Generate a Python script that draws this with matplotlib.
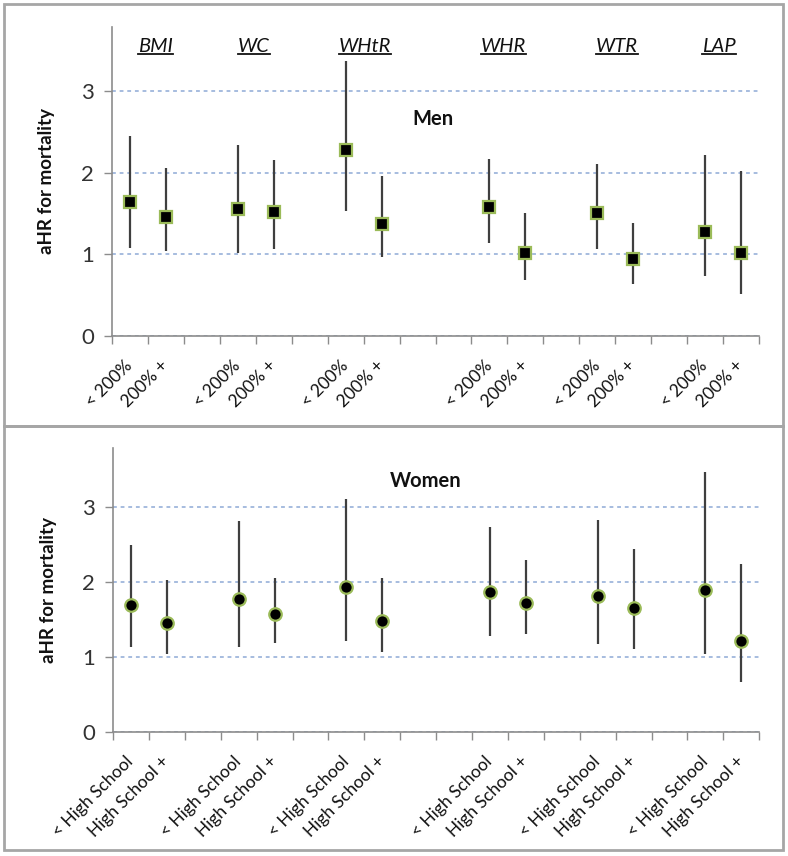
import numpy as np
import matplotlib
matplotlib.use("Agg")
import matplotlib.pyplot as plt
from matplotlib.patches import Rectangle
from matplotlib.lines import Line2D

plt.rcParams['font.family'] = ['Lato', 'DejaVu Sans']

nan = np.nan
# ---- data ----
men_labels = ["< 200%", "200% +", "", "< 200%", "200% +", "", "< 200%", "200% +", "", "",
              "< 200%", "200% +", "", "< 200%", "200% +", "", "< 200%", "200% +"]
women_labels = ["< High School", "High School +", "", "< High School", "High School +", "",
                "< High School", "High School +", "", "", "< High School", "High School +", "",
                "< High School", "High School +", "", "< High School", "High School +"]

men_hr = [1.64, 1.45, nan, 1.55, 1.52, nan, 2.27, 1.37, nan, nan, 1.58, 1.01, nan, 1.50, 0.94, nan, 1.27, 1.02]
men_lo = [1.08, 1.04, nan, 1.02, 1.06, nan, 1.53, 0.97, nan, nan, 1.14, 0.68, nan, 1.06, 0.64, nan, 0.73, 0.51]
men_hi = [2.45, 2.05, nan, 2.34, 2.15, nan, 3.36, 1.96, nan, nan, 2.16, 1.51, nan, 2.11, 1.38, nan, 2.21, 2.02]

women_hr = [1.70, 1.45, nan, 1.78, 1.57, nan, 1.94, 1.48, nan, nan, 1.87, 1.72, nan, 1.81, 1.65, nan, 1.90, 1.22]
women_lo = [1.14, 1.04, nan, 1.13, 1.19, nan, 1.21, 1.07, nan, nan, 1.28, 1.31, nan, 1.17, 1.11, nan, 1.04, 0.67]
women_hi = [2.49, 2.03, nan, 2.81, 2.05, nan, 3.11, 2.05, nan, nan, 2.73, 2.29, nan, 2.82, 2.44, nan, 3.47, 2.24]

group_names = ["BMI", "WC", "WHtR", "WHR", "WTR", "LAP"]
yticks = [0, 1, 2, 3]

# ---- layout / style ----
W, H = 788, 856
fig = plt.figure(figsize=(W / 100, H / 100), dpi=100)
fig.patch.set_facecolor('white')

AXIS_C = '#8c8c8c'
GRID_C = '#8eaad6'
ERR_C = '#3f3f3f'
EDGE_C = '#9bbb59'
TXT_C = '#111111'
group_x = [0.71, 3.44, 6.53, 10.39, 13.54, 16.39]


def px_rect(x0, y0, x1, y1):
    return [x0 / W, 1 - y1 / H, (x1 - x0) / W, (y1 - y0) / H]


def style_axes(ax, labels):
    n = len(labels)
    x = np.arange(n)
    ax.set_xlim(-0.5, n - 0.5)
    ax.set_ylim(0, 3.78)
    for s in ['top', 'right']:
        ax.spines[s].set_visible(False)
    for s in ['left', 'bottom']:
        ax.spines[s].set_color(AXIS_C)
        ax.spines[s].set_linewidth(1.2)
        ax.spines[s].set_zorder(3)
    ax.set_yticks(yticks)
    ax.set_yticklabels([str(v) for v in yticks], fontsize=16, color='#333333')
    ax.tick_params(axis='y', length=6, width=1, color=AXIS_C, pad=7)
    ax.set_xticks(x)
    ax.set_xticklabels(labels, rotation=45, ha='right', va='center',
                       rotation_mode='anchor', fontsize=12.5, color=TXT_C)
    ax.tick_params(axis='x', which='major', length=0, pad=19.5)
    ax.set_xticks(np.arange(-0.5, n, 1.0), minor=True)
    ax.tick_params(axis='x', which='minor', length=6, width=1, color=AXIS_C)
    ax.yaxis.grid(True, color=GRID_C, linestyle=(0, (2.5, 2.5)), linewidth=1.1)
    ax.set_axisbelow(True)
    return x


# ---- top panel (men) ----
ax1 = fig.add_axes(px_rect(112, 27, 759, 336))
x = style_axes(ax1, men_labels)
hr = np.array(men_hr); lo = np.array(men_lo); hi = np.array(men_hi)
ax1.errorbar(x, hr, yerr=[hr - lo, hi - hr], fmt='s', ms=8.5, mfc='black', mec=EDGE_C,
             mew=1.6, ecolor=ERR_C, elinewidth=1.6, capsize=0, zorder=4)
ax1.text(-0.101, 0.5, "aHR for mortality", transform=ax1.transAxes, rotation=90,
         ha='center', va='center', fontsize=13.5, fontweight='bold', color=TXT_C)
ax1.text(8.42, 2.66, "Men", ha='center', va='center', fontsize=14.5, fontweight='bold', color=TXT_C)
group_texts = []
for gx, name in zip(group_x, group_names):
    t = ax1.text(gx, 3.54, name, ha='center', va='center', fontsize=14.5,
                 style='italic', color=TXT_C)
    group_texts.append(t)

# ---- bottom panel (women) ----
ax2 = fig.add_axes(px_rect(113, 448.3, 759.3, 732.3))
x = style_axes(ax2, women_labels)
hr = np.array(women_hr); lo = np.array(women_lo); hi = np.array(women_hi)
ax2.errorbar(x, hr, yerr=[hr - lo, hi - hr], fmt='o', ms=9, mfc='black', mec=EDGE_C,
             mew=1.6, ecolor=ERR_C, elinewidth=1.6, capsize=0, zorder=4)
ax2.text(-0.1, 0.5, "aHR for mortality", transform=ax2.transAxes, rotation=90,
         ha='center', va='center', fontsize=13.5, fontweight='bold', color=TXT_C)
ax2.text(8.22, 3.34, "Women", ha='center', va='center', fontsize=14.5, fontweight='bold', color=TXT_C)

# ---- panel borders ----
for (y0, y1) in [(4, 426), (426, 850)]:
    fig.add_artist(Rectangle((4 / W, 1 - y1 / H), 779 / W, (y1 - y0) / H,
                             transform=fig.transFigure, fill=False,
                             edgecolor='#a6a6a6', linewidth=2))

# ---- underline group names ----
fig.canvas.draw()
r = fig.canvas.get_renderer()
for t in group_texts:
    bb = t.get_window_extent(renderer=r)
    yline = bb.y0 + 1.5
    fig.add_artist(Line2D([bb.x0 / W, bb.x1 / W], [yline / H, yline / H],
                          transform=fig.transFigure, color=TXT_C, linewidth=1.3))

fig.savefig("out.png", dpi=100, facecolor='white')
